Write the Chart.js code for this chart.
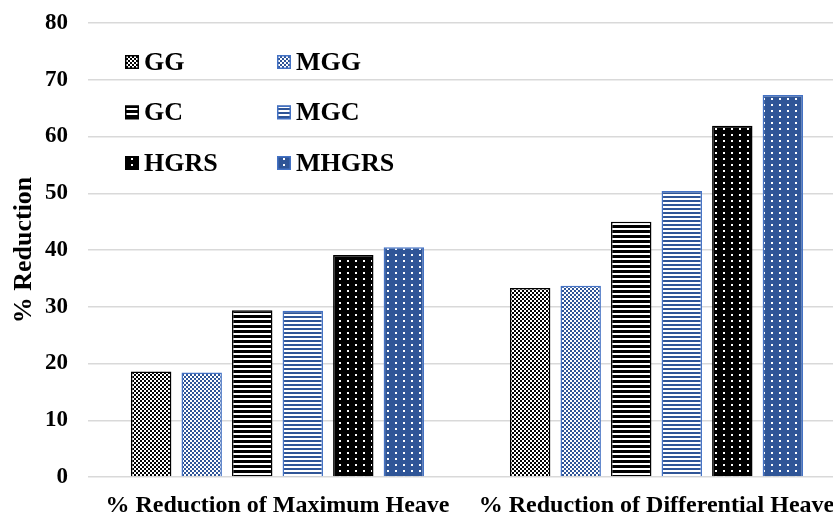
<!DOCTYPE html>
<html>
<head>
<meta charset="utf-8">
<script src="https://cdn.jsdelivr.net/npm/chart.js@4.4.1/dist/chart.umd.min.js"></script>
<style>
  html, body { margin: 0; padding: 0; background: #fff; overflow: hidden; }
  #wrap { width: 846px; height: 516px; }
</style>
</head>
<body>
<div id="wrap"><canvas id="c" width="846" height="516"></canvas></div>
<script>
// Categories and series
const categories = ['% Reduction of Maximum Heave', '% Reduction of Differential Heave'];
const seriesNames = ['GG', 'MGG', 'GC', 'MGC', 'HGRS', 'MHGRS'];
const GG    = [18.6, 33.3];
const MGG   = [18.4, 33.7];
const GC    = [29.4, 45.0];
const MGC   = [29.3, 50.4];
const HGRS  = [39.1, 61.9];
const MHGRS = [40.5, 67.3];
const yMin = 0, yMax = 80, yStep = 10;

const FONT = "'Liberation Serif', 'Times New Roman', serif";
const BLACK = '#000000';
const BLUE_DARK = '#2F5597';
const BLUE_EDGE = '#4472C4';

const canvas = document.getElementById('c');
const ctx = canvas.getContext('2d');

// Small repeating tiles used as bar fills
function tile(w, h, bg, fg, paint) {
  const t = document.createElement('canvas');
  t.width = w; t.height = h;
  const g = t.getContext('2d');
  g.fillStyle = bg; g.fillRect(0, 0, w, h);
  g.fillStyle = fg; paint(g);
  return ctx.createPattern(t, 'repeat');
}
const checker = (fg) => tile(4, 4, '#ffffff', fg, g => { g.fillRect(0, 0, 2, 2); g.fillRect(2, 2, 2, 2); });
const stripes = (fg, period, band) => tile(4, period, '#ffffff', fg, g => g.fillRect(0, 0, 4, band));
const dots = (bg) => tile(8, 6, bg, '#ffffff', g => g.fillRect(3, 2, 2, 2));

const fills = [
  checker(BLACK),
  checker(BLUE_DARK),
  stripes(BLACK, 5, 3),
  stripes(BLUE_DARK, 4, 2),
  dots(BLACK),
  dots(BLUE_DARK)
];
const edges = [BLACK, BLUE_EDGE, BLACK, BLUE_EDGE, BLACK, BLUE_EDGE];
const values = [GG, MGG, GC, MGC, HGRS, MHGRS];

const datasets = seriesNames.map((name, i) => ({
  label: name,
  data: values[i],
  backgroundColor: fills[i],
  borderColor: edges[i],
  borderWidth: 1.5,
  borderSkipped: 'start',
  categoryPercentage: 0.8,
  barPercentage: 0.8
}));

// Two-column legend drawn inside the plot area
const gridLegend = {
  id: 'gridLegend',
  afterDatasetsDraw(chart) {
    const c = chart.ctx;
    const area = chart.chartArea;
    const colX = [area.left + 37, area.left + 189];
    const rowY = [area.top + 39, area.top + 89.5, area.top + 140];
    const box = 14;
    c.save();
    c.font = 'bold 26px ' + FONT;
    c.textBaseline = 'middle';
    c.textAlign = 'left';
    chart.data.datasets.forEach((ds, i) => {
      const x = colX[i % 2];
      const y = rowY[Math.floor(i / 2)];
      c.fillStyle = ds.backgroundColor;
      c.fillRect(x, y - box / 2, box, box);
      c.lineWidth = 1.5;
      c.strokeStyle = ds.borderColor;
      c.strokeRect(x + 0.75, y - box / 2 + 0.75, box - 1.5, box - 1.5);
      c.fillStyle = '#000';
      c.fillText(ds.label, x + box + 5, y + 1);
    });
    c.restore();
  }
};

new Chart(canvas, {
  type: 'bar',
  data: { labels: categories, datasets },
  plugins: [gridLegend],
  options: {
    responsive: false,
    animation: false,
    layout: { padding: { top: 23, left: 0, right: 0, bottom: 0 } },
    plugins: {
      legend: { display: false },
      tooltip: { enabled: false }
    },
    scales: {
      x: {
        grid: { display: false },
        border: { display: false },
        ticks: {
          color: '#000',
          padding: 6,
          maxRotation: 0,
          autoSkip: false,
          font: { family: FONT, size: 24, weight: 'bold' }
        },
        afterFit: s => { s.height = 39; }
      },
      y: {
        min: yMin,
        max: yMax,
        border: { display: false },
        grid: {
          color: '#d9d9d9',
          lineWidth: 1.5,
          drawTicks: true,
          tickLength: 20,
          tickColor: 'rgba(0,0,0,0)'
        },
        ticks: {
          stepSize: yStep,
          color: '#000',
          padding: 0,
          font: { family: FONT, size: 23, weight: 'bold' }
        },
        title: {
          display: true,
          text: '% Reduction',
          color: '#000',
          padding: { top: 9, bottom: 0 },
          font: { family: FONT, size: 26, weight: 'bold' }
        },
        afterFit: s => { s.width = 88; }
      }
    }
  }
});
</script>
</body>
</html>
